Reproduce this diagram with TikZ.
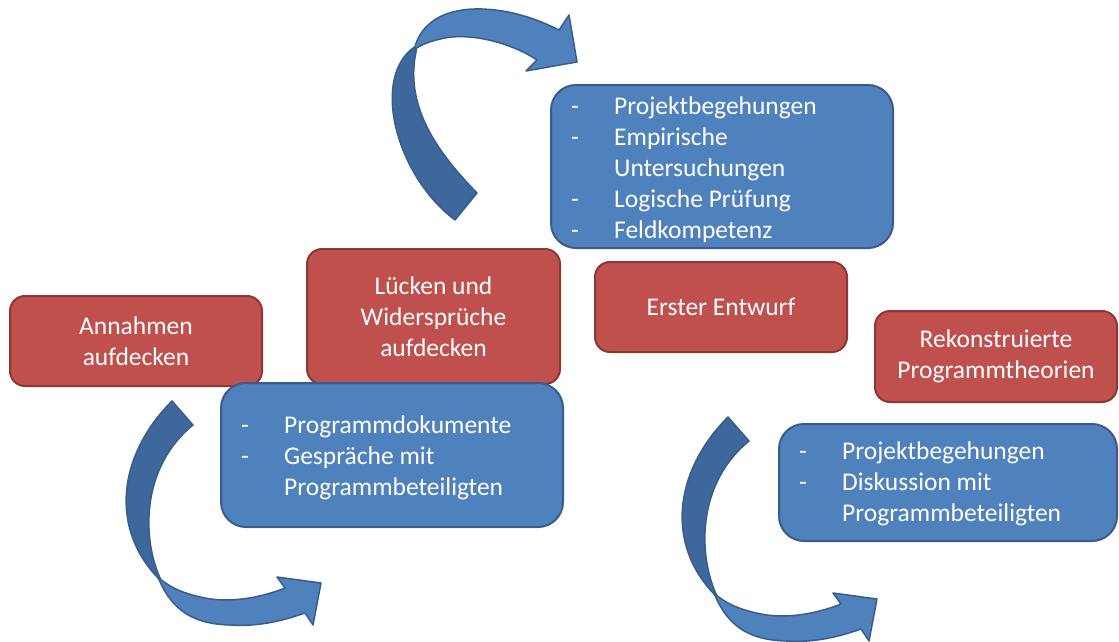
\documentclass[tikz,border=0pt]{standalone}
\usepackage{fontspec}
\setmainfont{Carlito}
\definecolor{boxblue}{RGB}{79,129,189}
\definecolor{blueedge}{RGB}{56,93,138}
\definecolor{bluedark}{RGB}{62,104,155}
\definecolor{boxred}{RGB}{192,80,77}
\definecolor{rededge}{RGB}{140,56,54}
\newcommand{\dashitem}{\makebox[43pt][l]{-}}
\newcommand{\noitem}{\hspace*{43pt}}
\begin{document}
\begin{tikzpicture}[x=1pt,y=-1pt,
  bluebox/.style={draw=blueedge, fill=boxblue, line width=2pt, rounded corners=25pt, inner sep=0pt},
  redbox/.style={draw=rededge, fill=boxred, line width=2pt, rounded corners=15pt, inner sep=0pt,
    text=white, font=\fontsize{25.5}{31}\selectfont, align=center},
  listtext/.style={text=white, font=\fontsize{25.5}{31}\selectfont, align=left, anchor=west, inner sep=0pt},
  arrowfront/.style={fill=boxblue, draw=blueedge, line width=1.5pt, line join=round},
  arrowback/.style={fill=bluedark, draw=blueedge, line width=1.5pt, line join=round}]

\useasboundingbox (0,0) rectangle (1119,642);

% curved arrow at the top
\path[arrowback] (416,46) .. controls (370,75) and (395,175) .. (455,220)
  -- (477,193) .. controls (435,150) and (405,105) .. (416,52) -- cycle;
\path[arrowfront] (414,50) .. controls (421,20) and (448,8) .. (482,9)
  .. controls (510,10) and (535,18) .. (559,30)
  -- (569,15) -- (577,62) -- (526,71) -- (537,60)
  .. controls (510,42) and (470,33) .. (445,38)
  .. controls (430,41) and (420,45) .. (414,50) -- cycle;

% curved arrows at the bottom
\foreach \dx/\dy in {0/0, 556/16} {
  \begin{scope}[shift={(\dx,\dy)}]
    \path[arrowback] (172,401) .. controls (118,455) and (108,530) .. (162,582)
      .. controls (143,545) and (138,470) .. (193,425) -- cycle;
    \path[arrowfront] (158,577) .. controls (172,612) and (195,624) .. (230,625)
      .. controls (260,627) and (285,620) .. (305,613)
      -- (313,625) -- (321,583) -- (277,577) -- (285,588)
      .. controls (260,598) and (230,603) .. (205,598)
      .. controls (185,594) and (170,588) .. (158,577) -- cycle;
  \end{scope}
}

% red boxes
\node[redbox, minimum width=253pt, minimum height=135pt] (gaps) at (433.5,316.5)
  {Lücken und\\Widersprüche\\aufdecken};
\node[redbox, minimum width=252pt, minimum height=90pt] (draft) at (721,307)
  {Erster Entwurf};
\node[redbox, minimum width=252pt, minimum height=90pt] (assume) at (136,341)
  {Annahmen\\aufdecken};
\node[redbox, minimum width=242pt, minimum height=91pt] (recon) at (996,356.5)
  {Rekonstruierte\\Programmtheorien};

% blue boxes
\node[bluebox, minimum width=342pt, minimum height=163pt] (field) at (722,166.5) {};
\node[listtext] (fieldlist) at (571,170)
  {\dashitem Projektbegehungen\\
   \dashitem Empirische\\
   \noitem Untersuchungen\\
   \dashitem Logische Prüfung\\
   \dashitem Feldkompetenz};

\node[bluebox, minimum width=342pt, minimum height=144pt] (docs) at (392,455) {};
\node[listtext] (docslist) at (241,457.5)
  {\dashitem Programmdokumente\\
   \dashitem Gespräche mit\\
   \noitem Programmbeteiligten};

\node[bluebox, minimum width=338pt, minimum height=117pt] (review) at (948,482.5) {};
\node[listtext] (reviewlist) at (799,484)
  {\dashitem Projektbegehungen\\
   \dashitem Diskussion mit\\
   \noitem Programmbeteiligten};
\end{tikzpicture}
\end{document}
